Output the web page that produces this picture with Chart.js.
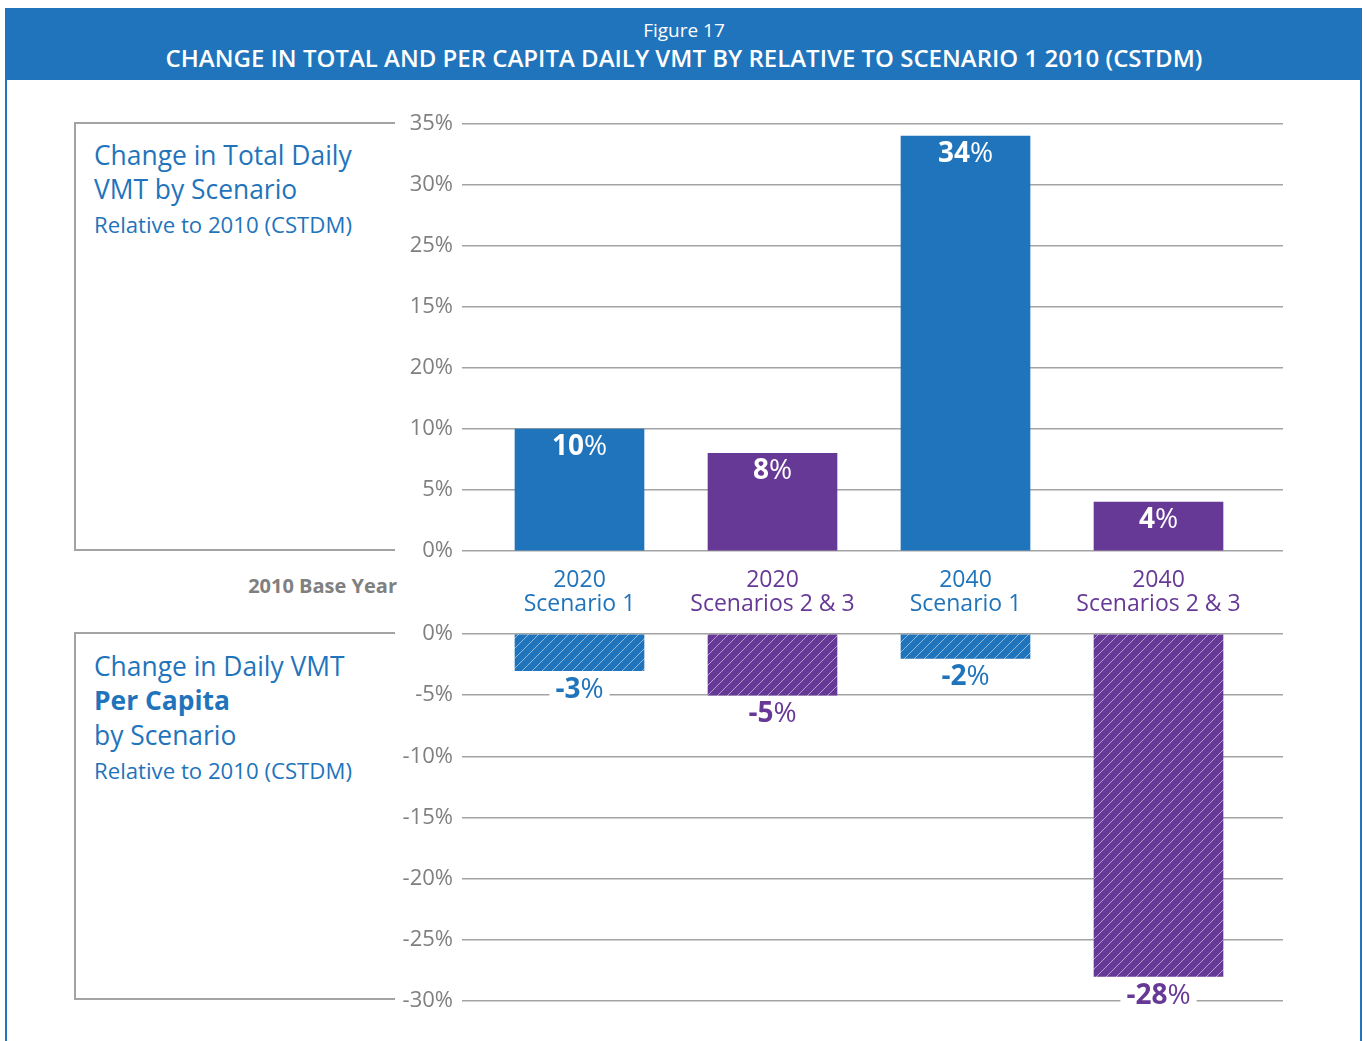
<!DOCTYPE html>
<html><head><meta charset="utf-8">
<script src="https://cdn.jsdelivr.net/npm/chart.js@4.4.1/dist/chart.umd.min.js"></script>
<style>
html,body{margin:0;padding:0;background:#fff;}
#page{position:relative;width:1367px;height:1041px;overflow:hidden;font-family:"Open Sans",sans-serif;}
.vline{position:absolute;top:8px;bottom:0;width:2px;background:#1f74bb;}
#header{position:absolute;left:6px;top:8px;width:1356px;height:72px;background:#1f74bb;color:#fff;text-align:center;}
#fig{position:absolute;top:9px;left:0;right:0;font-size:19px;line-height:26px;}
#title{position:absolute;top:34px;left:0;right:0;font-size:24px;font-weight:600;line-height:32px;}
.hl{position:absolute;height:1.5px;background:#a3a3a3;}
.vl{position:absolute;width:1.5px;background:#a3a3a3;}
.pt{position:absolute;left:94px;color:#1f74bb;white-space:nowrap;}
#base{position:absolute;right:970px;top:573px;line-height:26px;font-size:20px;font-weight:700;color:#808080;white-space:nowrap;}
#cTop{position:absolute;left:390px;top:103px;}
#cBot{position:absolute;left:390px;top:613px;}
</style>
</head><body>
<div id="page">
  <div id="header"><div id="fig">Figure 17</div><div id="title">CHANGE IN TOTAL AND PER CAPITA DAILY VMT BY RELATIVE TO SCENARIO 1 2010 (CSTDM)</div></div>
  <div class="vline" style="left:5px"></div>
  <div class="vline" style="left:1360px"></div>

  <div class="hl" style="left:75px;width:320px;top:122px"></div>
  <div class="hl" style="left:75px;width:320px;top:549px"></div>
  <div class="vl" style="left:74px;top:122px;height:429px"></div>
  <div class="pt" style="top:137px;font-size:26.4px;line-height:36px">Change in Total Daily</div>
  <div class="pt" style="top:171px;font-size:26.4px;line-height:36px">VMT by Scenario</div>
  <div class="pt" style="top:210px;font-size:22.2px;line-height:30px">Relative to 2010 (CSTDM)</div>

  <div id="base">2010 Base Year</div>

  <div class="hl" style="left:75px;width:320px;top:632px"></div>
  <div class="hl" style="left:75px;width:320px;top:998px"></div>
  <div class="vl" style="left:74px;top:632px;height:368px"></div>
  <div class="pt" style="top:648px;font-size:26.4px;line-height:36px">Change in Daily VMT</div>
  <div class="pt" style="top:682px;font-size:26.4px;line-height:36px;font-weight:700">Per Capita</div>
  <div class="pt" style="top:717px;font-size:26.4px;line-height:36px">by Scenario</div>
  <div class="pt" style="top:756px;font-size:22.2px;line-height:30px">Relative to 2010 (CSTDM)</div>

  <canvas id="cTop" width="893" height="518"></canvas>
  <canvas id="cBot" width="893" height="409"></canvas>
</div>
<script>
const categories = [['2020','Scenario 1'],['2020','Scenarios 2 & 3'],['2040','Scenario 1'],['2040','Scenarios 2 & 3']];
const totalChange = [10, 8, 34, 4];
const perCapitaChange = [-3, -5, -2, -28];
const topTickLabels = ['0%','5%','10%','20%','15%','25%','30%','35%'];
const bottomTickLabels = ['-30%','-25%','-20%','-15%','-10%','-5%','0%'];

const BLUE = '#1f74bb', PURPLE = '#673996', GRID = '#a3a3a3', TICK = '#808080';
const catColors = [BLUE, PURPLE, BLUE, PURPLE];
const FONT = '"Open Sans", sans-serif';
const VAL_SIZE = 28;

function hatch(color){
  const c = document.createElement('canvas'); c.width = 10; c.height = 10;
  const g = c.getContext('2d');
  g.fillStyle = color; g.fillRect(0,0,10,10);
  g.strokeStyle = 'rgba(255,255,255,0.5)'; g.lineWidth = 1;
  g.beginPath();
  g.moveTo(-1,11); g.lineTo(11,-1);
  g.moveTo(-6,6); g.lineTo(6,-6);
  g.moveTo(4,16); g.lineTo(16,4);
  g.stroke();
  return g.createPattern(c,'repeat');
}

const xScale = (show) => ({
  type:'linear', min:-0.60881, max:3.64508, display:show, offset:false,
  grid:{display:false, offset:false}, border:{display:false},
  afterBuildTicks: s => { s.ticks = categories.map((c,i)=>({value:i})); },
  afterFit: s => { if(show) s.height = 70; },
  ticks:{
    padding:9, autoSkip:false, maxRotation:0,
    callback: v => categories[v],
    color: ctx => catColors[ctx.index],
    font:{family:FONT, size:23, lineHeight:'24px'}
  }
});

const yTicks = (labels) => ({ padding:9, color:TICK, font:{family:FONT, size:22, lineHeight:'24px'}, callback:(v,i)=>labels[i] });

const valuePlugin = {
  id:'vals',
  afterDatasetsDraw(chart, args, opts){
    const ctx = chart.ctx;
    const meta = chart.getDatasetMeta(0);
    const vals = chart.data.datasets[0].data;
    ctx.save();
    meta.data.forEach((bar,i)=>{
      const num = String(vals[i].y), pct = '%';
      ctx.font = 'bold ' + VAL_SIZE + 'px ' + FONT; const w1 = ctx.measureText(num).width;
      ctx.font = VAL_SIZE + 'px ' + FONT; const w2 = ctx.measureText(pct).width;
      const tot = w1 + w2;
      const cy = bar.y + opts.offset;
      if(opts.bg){ ctx.fillStyle = '#fff'; ctx.fillRect(bar.x - tot/2 - 6, cy - 12, tot + 12, 24); }
      ctx.fillStyle = opts.colors ? opts.colors[i] : '#fff';
      ctx.textBaseline = 'middle'; ctx.textAlign = 'left';
      ctx.font = 'bold ' + VAL_SIZE + 'px ' + FONT; ctx.fillText(num, bar.x - tot/2, cy);
      ctx.font = VAL_SIZE + 'px ' + FONT; ctx.fillText(pct, bar.x - tot/2 + w1, cy);
    });
    ctx.restore();
  }
};

new Chart(document.getElementById('cTop'), {
  type:'bar',
  data:{ datasets:[{ data: totalChange.map((v,i)=>({x:i,y:v})), backgroundColor: catColors, barThickness:129, borderWidth:0 }]},
  options:{
    responsive:false, animation:false,
    layout:{padding:0},
    plugins:{legend:{display:false}, tooltip:{enabled:false}, vals:{offset:18, bg:false}},
    scales:{
      x: xScale(true),
      y:{ min:0, max:35,
        afterFit: s => { s.width = 72; },
        afterBuildTicks: s => { s.ticks = topTickLabels.map((t,i)=>({value:i*5})); },
        grid:{color:GRID, lineWidth:1.5, drawTicks:false}, border:{display:false},
        ticks: yTicks(topTickLabels) }
    }
  },
  plugins:[valuePlugin]
});

new Chart(document.getElementById('cBot'), {
  type:'bar',
  data:{ datasets:[{ data: perCapitaChange.map((v,i)=>({x:i,y:v})), backgroundColor: catColors.map(hatch), barThickness:129, borderWidth:0 }]},
  options:{
    responsive:false, animation:false,
    layout:{padding:0},
    plugins:{legend:{display:false}, tooltip:{enabled:false}, vals:{offset:19, bg:true, colors:catColors}},
    scales:{
      x: xScale(false),
      y:{ min:-30, max:0,
        afterFit: s => { s.width = 72; },
        afterBuildTicks: s => { s.ticks = bottomTickLabels.map((t,i)=>({value:-30 + i*5})); },
        grid:{color:GRID, lineWidth:1.5, drawTicks:false}, border:{display:false},
        ticks: yTicks(bottomTickLabels) }
    }
  },
  plugins:[valuePlugin]
});
</script>
</body></html>
